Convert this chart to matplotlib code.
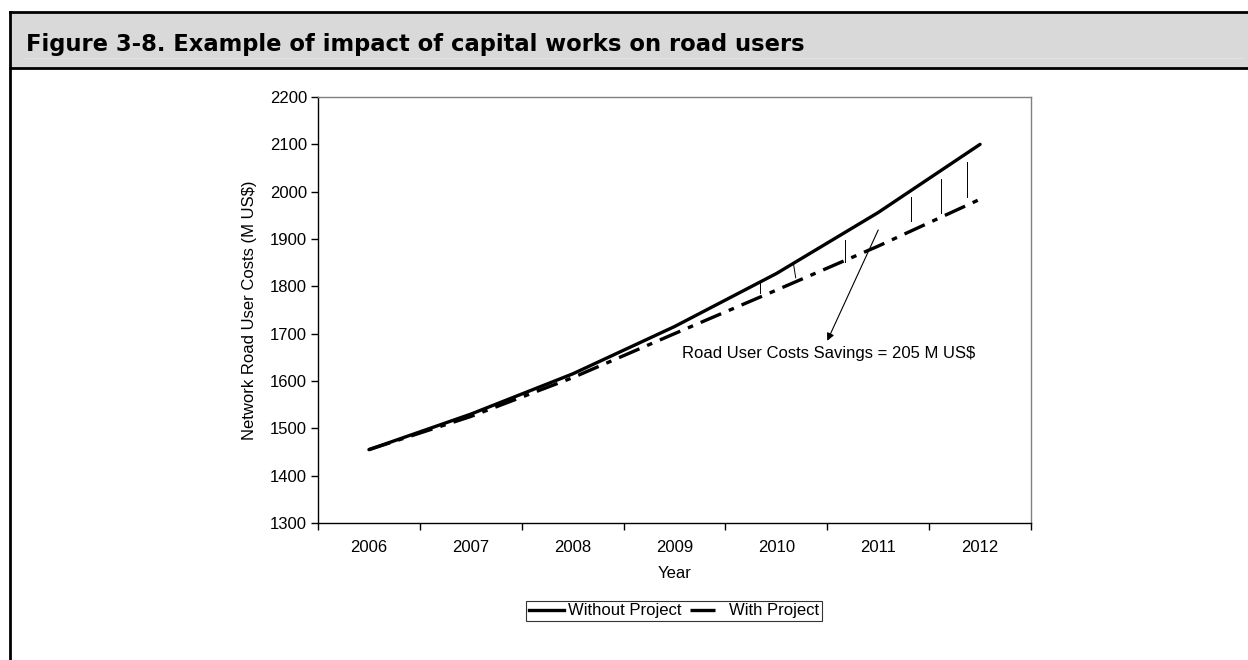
import numpy as np
import matplotlib.pyplot as plt
from matplotlib.patches import Rectangle
from matplotlib.lines import Line2D

plt.rcParams['font.family'] = ['Liberation Sans', 'DejaVu Sans']
plt.rcParams['lines.scale_dashes'] = False

years = ["2006", "2007", "2008", "2009", "2010", "2011", "2012"]
without_project = [1455, 1530, 1615, 1715, 1827, 1956, 2100]
with_project = [1455, 1525, 1607, 1700, 1792, 1885, 1984]

# hand-drawn hatch marks between the curves (category position, top, bottom)
hatch_x_top = [3.84, 4.17, 4.67, 5.32, 5.62, 5.87]
hatch_x_bot = [3.84, 4.19, 4.67, 5.32, 5.62, 5.87]
hatch_top = [1806, 1845, 1898, 1989, 2026, 2063]
hatch_bot = [1785, 1818, 1852, 1937, 1954, 1989]

note = "Road User Costs Savings = 205 M US$"
title = "Figure 3-8. Example of impact of capital works on road users"

fig = plt.figure(figsize=(12.48, 6.6), dpi=100)
W, H = 1248, 660

# page frame and header band
fig.add_artist(Rectangle((11 / W, 1 - 67.5 / H), 1.0, 55 / H, transform=fig.transFigure,
                         facecolor="#d9d9d9", edgecolor="none"))
fig.add_artist(Line2D([25 / W, 1242 / W], [1 - 57.5 / H, 1 - 57.5 / H], transform=fig.transFigure,
                      color="#e3e3e3", lw=0.8))
fig.add_artist(Line2D([10 / W, 1.0], [1 - 12.2 / H, 1 - 12.2 / H], transform=fig.transFigure,
                      color="black", lw=2))
fig.add_artist(Line2D([10 / W, 1.0], [1 - 67.8 / H, 1 - 67.8 / H], transform=fig.transFigure,
                      color="black", lw=2))
fig.add_artist(Line2D([10.4 / W, 10.4 / W], [0, 1 - 11.5 / H], transform=fig.transFigure,
                      color="black", lw=2))
fig.text(26 / W, 1 - 51.5 / H, title, family="DejaVu Sans", weight="bold", fontsize=16.3,
         ha="left", va="baseline")

ax = fig.add_axes([318 / W, 1 - 523 / H, 713 / W, 426 / H])
x = np.arange(len(years))

ax.plot(x, without_project, color="black", lw=2.4, solid_capstyle="round")
ax.plot(x, with_project, color="black", lw=2.4, dashes=(16, 6, 4, 6))

for xt, xb, ht, hb in zip(hatch_x_top, hatch_x_bot, hatch_top, hatch_bot):
    ax.plot([xt, xb], [ht, hb], color="black", lw=0.7)

ax.annotate("", xy=(4.50, 1685), xytext=(5.00, 1919),
            arrowprops=dict(arrowstyle="-|>", color="black", lw=0.8,
                            mutation_scale=11, shrinkA=0, shrinkB=0))
ax.text(3.07, 1649, note, fontsize=12, ha="left", va="baseline")

ax.set_xlim(-0.5, 6.5)
ax.set_ylim(1300, 2200)
ax.set_yticks(np.arange(1300, 2201, 100))
ax.set_xticks(np.arange(-0.5, 6.6, 1))
ax.set_xticklabels([])
ax.set_xticks(x, minor=True)
ax.set_xticklabels(years, minor=True)
ax.tick_params(axis="x", which="minor", length=0, pad=12, labelsize=12)
ax.tick_params(axis="x", which="major", length=5, width=1)
ax.tick_params(axis="y", length=5, width=1, pad=3, labelsize=12)

for s in ["top", "right"]:
    ax.spines[s].set_color("#808080")
    ax.spines[s].set_linewidth(1)
for s in ["left", "bottom"]:
    ax.spines[s].set_linewidth(1)

ax.set_xlabel("Year", fontsize=12)
ax.xaxis.set_label_coords(0.5, -0.101)
ax.set_ylabel("Network Road User Costs (M US$)", fontsize=12)
ax.yaxis.set_label_coords(-0.085, 0.5)

h1 = Line2D([], [], color="black", lw=2.4)
h2 = Line2D([], [], color="black", lw=2.4, dashes=(18, 30))
leg = fig.legend([h1, h2], ["Without Project", "With Project"], loc="center",
                 bbox_to_anchor=(674 / W, 1 - 611 / H), ncol=2,
                 fontsize=12, frameon=True, fancybox=False, handlelength=2.1,
                 handletextpad=0.25, columnspacing=0.5, borderpad=0.15,
                 borderaxespad=0)
leg.get_frame().set_edgecolor("black")
leg.get_frame().set_linewidth(0.8)

plt.savefig("out.png", dpi=100)
